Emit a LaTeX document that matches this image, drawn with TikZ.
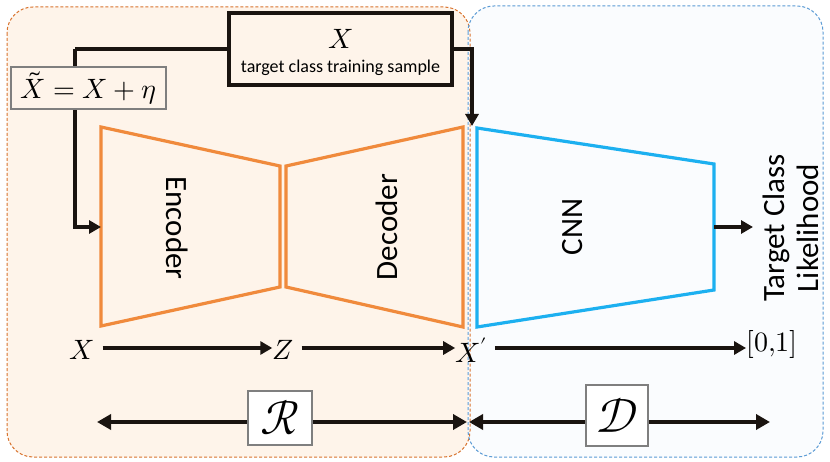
\documentclass[tikz,border=0pt]{standalone}
\usepackage{fontspec}
\usepackage{unicode-math}
\setmathfont{latinmodern-math.otf}
\setsansfont{Carlito}
\usetikzlibrary{arrows.meta}
\definecolor{orfill}{HTML}{FEF4EA}
\definecolor{orline}{HTML}{D9732E}
\definecolor{ortrap}{HTML}{F08A3C}
\definecolor{blfill}{HTML}{FAFCFE}
\definecolor{blline}{HTML}{5B9BD5}
\definecolor{bltrap}{HTML}{1CB0F0}
\definecolor{boxgray}{HTML}{7F7F7F}
\definecolor{ink}{HTML}{1A1410}
\tikzset{
  region/.style={dashed, dash pattern=on 3pt off 2pt, line width=1pt, rounded corners=26pt},
  trap/.style={line width=3.2pt, line join=miter},
  conn/.style={draw=ink, line width=4pt, -{Triangle[length=12pt,width=13pt]}},
  plainline/.style={draw=ink, line width=4pt},
  dbl/.style={draw=ink, line width=4.2pt, {Triangle[length=14pt,width=15pt]}-{Triangle[length=14pt,width=15pt]}},
  lbl/.style={font=\sffamily\fontsize{31}{34}\selectfont, inner sep=0pt},
  mlab/.style={font=\fontsize{28}{31}\selectfont, inner sep=0pt},
  boxthin/.style={draw=boxgray, line width=1.2pt, fill=orfill, inner sep=0pt},
  boxthick/.style={draw=ink, line width=4pt, fill=orfill, inner sep=0pt}
}
\begin{document}
\begin{tikzpicture}[x=1pt,y=-1pt]
\useasboundingbox (0,0) rectangle (830,462);
\fill[white] (0,0) rectangle (830,462);
% regions
\fill[orfill, rounded corners=26pt] (7,7) rectangle (470,457);
\fill[blfill, rounded corners=26pt] (468,6) rectangle (823,457);
\draw[region, draw=orline] (7,7) rectangle (470,457);
\draw[region, draw=blline] (468,6) rectangle (823,457);
% trapezoids
\draw[trap, draw=ortrap] (101,127) -- (280,166) -- (280,287) -- (101,326) -- cycle;
\draw[trap, draw=ortrap] (286,166) -- (463,127) -- (463,327) -- (286,287) -- cycle;
\draw[trap, draw=bltrap] (477,128) -- (714,164) -- (714,290) -- (477,327) -- cycle;
\node[lbl, rotate=-90] (enc) at (177,228) {Encoder};
\node[lbl, rotate=90] (dec) at (387,227) {Decoder};
\node[lbl, rotate=90] (cnn) at (573,227) {CNN};
% top box
\node[boxthick, minimum width=223pt, minimum height=72pt] (xbox) at (340.5,49) {};
\node[mlab] (xtop) at (340.5,39) {$X$};
\node[font=\sffamily\fontsize{18}{20}\selectfont, inner sep=0pt] (xtxt) at (340.5,68) {target class training sample};
% connectors from top box
\coordinate (bend1) at (75,49);
\coordinate (encin) at (101,227);
\coordinate (cnnin) at (472,126);
\coordinate (cnnout) at (714,227);
\draw[plainline] (xbox.west) -- (bend1);
\draw[conn] (bend1) |- (encin);
\draw[conn] (xbox.east) -| (cnnin);
% noisy box
\node[boxthin, minimum width=155pt, minimum height=42pt] (xt) at (88.5,88) {\fontsize{28}{31}\selectfont$\tilde{X}=X+\eta$};
% output
\node[lbl, rotate=90, align=center] (tcl) at (791,228) {Target Class\\Likelihood};
\coordinate (tclin) at (753,227);
\draw[conn] (cnnout) -- (tclin);
% bottom row
\node[mlab] (bx) at (82,350) {$X$};
\node[mlab] (bz) at (283,350) {$Z$};
\node[mlab] (bxp) at (471,350) {$X'$};
\node[mlab] (bout) at (772,345) {$[0{,}1]$};
\draw[conn] (bx.east) ++(8,-2) coordinate (a1) (a1) -- (bz.west |- a1);
\draw[conn] (bz.east |- a1) ++(8,0) coordinate (b1) (b1) -- (bxp.west |- a1);
\draw[conn] (bxp.east |- a1) ++(8,0) coordinate (c1) (c1) -- (bout.west |- a1);
% double arrows
\coordinate (rl) at (97,422);
\coordinate (rr) at (467,422);
\coordinate (dl) at (469,422);
\coordinate (dr) at (770,422);
\draw[dbl] (rl) -- (rr);
\draw[dbl] (dl) -- (dr);
\node[boxthin, fill=white, minimum width=64pt, minimum height=54pt] (rbox) at (280,418) {\fontsize{48}{52}\selectfont$\mathcal{R}$};
\node[boxthin, fill=white, minimum width=62pt, minimum height=61pt] (dbox) at (617,415.5) {\fontsize{48}{52}\selectfont$\mathcal{D}$};
\end{tikzpicture}
\end{document}
